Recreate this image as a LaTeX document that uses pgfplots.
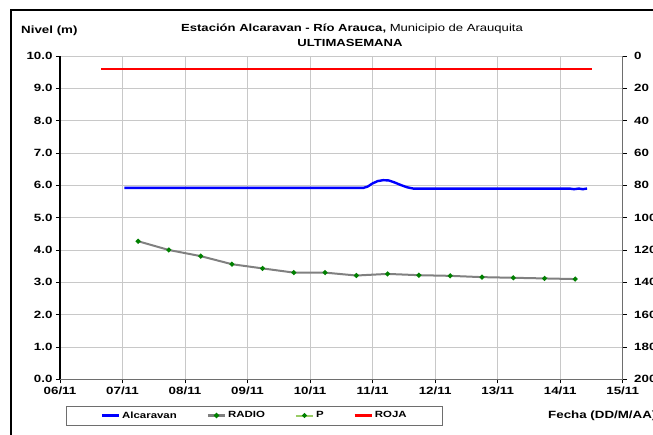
\documentclass[border=0pt]{standalone}
\usepackage{fontspec}
\setmainfont[FakeStretch=1.27]{Liberation Sans}
\usepackage{pgfplots}
\pgfplotsset{compat=1.18}
\definecolor{axgray}{RGB}{110,110,110}
\definecolor{gridgray}{RGB}{200,200,200}
\definecolor{radiogray}{RGB}{128,128,128}
\definecolor{dotgreen}{RGB}{0,128,0}
\definecolor{plight}{RGB}{153,204,102}
\begin{document}
\begin{tikzpicture}[x=1pt,y=1pt]
\begin{axis}[
  scale only axis, width=562.7pt, height=323.3pt,
  at={(60pt,54.7pt)}, anchor=south west,
  xmin=0, xmax=9, ymin=0, ymax=10,
  axis x line*=bottom, axis y line*=left,
  x axis line style={draw=axgray, line width=1pt, -},
  y axis line style={draw=black, line width=1.4pt, -},
  xtick={0,...,9},
  xticklabels={06/11,07/11,08/11,09/11,10/11,11/11,12/11,13/11,14/11,15/11},
  ytick={0,...,10},
  yticklabels={0.0,1.0,2.0,3.0,4.0,5.0,6.0,7.0,8.0,9.0,10.0},
  grid=major, major grid style={draw=gridgray, line width=0.9pt},
  tick style={draw=black, line width=0.8pt}, tick align=outside, major tick length=4pt,
  ticklabel style={font=\fontsize{10.5}{12}\selectfont\bfseries},
  legend columns=4,
  legend style={at={(0.346,-0.112)}, anchor=center, draw=none, fill=none,
    inner xsep=0pt, inner ysep=1pt,
    font=\fontsize{9}{10}\selectfont\bfseries,
    /tikz/every even column/.append style={column sep=28pt}},
]
\addplot[forget plot, draw=blue, line width=2.4pt] coordinates {
(1.03,5.92) (2.0,5.92) (3.0,5.92) (4.0,5.92) (4.85,5.92) (4.92,5.96) (5.0,6.06)
(5.08,6.13) (5.17,6.16) (5.26,6.15) (5.35,6.09) (5.45,6.01) (5.55,5.94) (5.65,5.90)
(6.5,5.90) (7.5,5.90) (8.15,5.90) (8.22,5.88) (8.3,5.90) (8.36,5.88) (8.43,5.90)};
\addplot[forget plot, draw=radiogray, line width=2pt, mark=*, mark size=1.3pt,
  mark options={fill=dotgreen, draw=dotgreen}] coordinates {
(1.25,4.27) (1.74,4.00) (2.25,3.81) (2.75,3.56) (3.24,3.43) (3.74,3.30) (4.24,3.30)
(4.74,3.21) (5.24,3.26) (5.74,3.22) (6.24,3.20) (6.75,3.16) (7.25,3.14) (7.75,3.12)
(8.24,3.10)};
\addplot[forget plot, draw=red, line width=1.8pt] coordinates {(0.66,9.6) (8.51,9.6)};
\addlegendimage{draw=blue, line width=2.4pt}
\addlegendentry{Alcaravan}
\addlegendimage{draw=radiogray, line width=2.2pt, mark=*, mark size=1.3pt, mark options={fill=dotgreen, draw=dotgreen}}
\addlegendentry{RADIO}
\addlegendimage{draw=plight, line width=2pt, mark=*, mark size=1.2pt, mark options={fill=dotgreen, draw=dotgreen}}
\addlegendentry{P}
\addlegendimage{draw=red, line width=2.2pt}
\addlegendentry{ROJA}
\end{axis}
\begin{axis}[
  scale only axis, width=562.7pt, height=323.3pt,
  at={(60pt,54.7pt)}, anchor=south west,
  xmin=0, xmax=9, ymin=0, ymax=200, y dir=reverse,
  axis x line=none, axis y line*=right,
  y axis line style={draw=axgray, line width=1pt, -},
  ytick={0,20,...,200},
  /pgf/number format/assume math mode=true,
  tick style={draw=black, line width=0.8pt}, tick align=outside, major tick length=4pt,
  ticklabel style={font=\fontsize{10.5}{12}\selectfont\bfseries},
  yticklabel style={xshift=4pt},
]
\end{axis}
\draw[axgray, line width=0.8pt] (66,9) rectangle (442,28);
\node[anchor=west, font=\fontsize{10.5}{12}\selectfont\bfseries, inner sep=0pt] at (21,403) {Nivel (m)};
\node[font=\fontsize{10.3}{12}\selectfont, inner sep=0pt] at (352,405) {\textbf{Estación Alcaravan - Río Arauca,} Municipio de Arauquita};
\node[font=\fontsize{10.3}{12}\selectfont\bfseries, inner sep=0pt] at (350,391) {ULTIMASEMANA};
\node[anchor=west, font=\fontsize{10.5}{12}\selectfont\bfseries, inner sep=0pt] at (548,18) {Fecha (DD/M/AA)};
\draw[line width=1.8pt] (11,-20) -- (11,424) -- (720,424);
\pgfresetboundingbox
\path[use as bounding box] (0,0) rectangle (653,434);
\end{tikzpicture}
\end{document}
